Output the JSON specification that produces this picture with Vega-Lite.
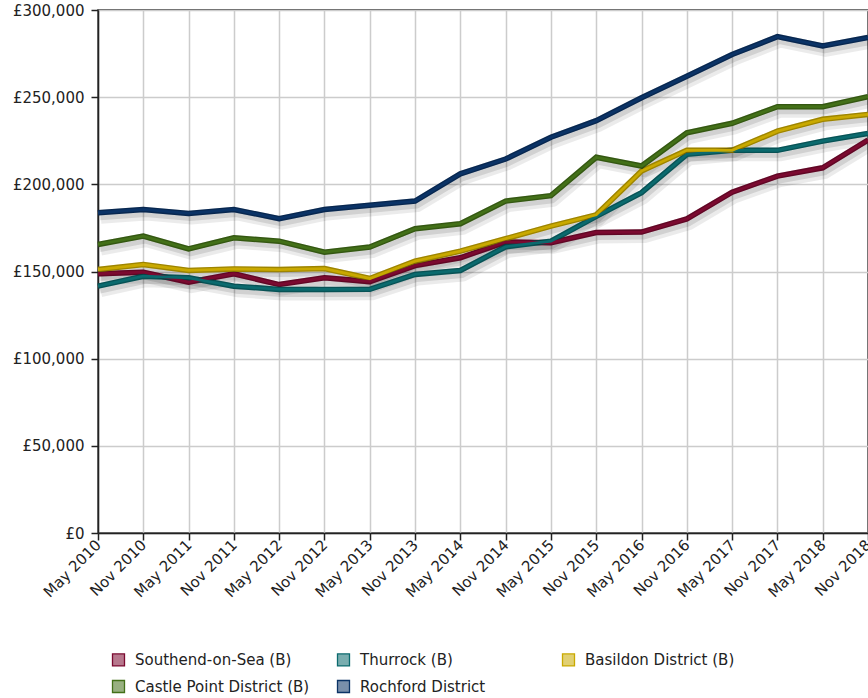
{
  "$schema": "https://vega.github.io/schema/vega-lite/v6.json",
  "width": 770,
  "height": 523,
  "autosize": {"type": "none"},
  "padding": {"left": 98, "top": 10, "right": 0, "bottom": 165},
  "background": "white",
  "config": {
    "font": "DejaVu Sans",
    "view": {"stroke": "#222", "strokeWidth": 1.5}
  },
  "data": {
    "values": [
      {"period": "May 2010", "area": "Southend-on-Sea (B)", "price": 148700},
      {"period": "Nov 2010", "area": "Southend-on-Sea (B)", "price": 149600},
      {"period": "May 2011", "area": "Southend-on-Sea (B)", "price": 143900},
      {"period": "Nov 2011", "area": "Southend-on-Sea (B)", "price": 148700},
      {"period": "May 2012", "area": "Southend-on-Sea (B)", "price": 142500},
      {"period": "Nov 2012", "area": "Southend-on-Sea (B)", "price": 146400},
      {"period": "May 2013", "area": "Southend-on-Sea (B)", "price": 144200},
      {"period": "Nov 2013", "area": "Southend-on-Sea (B)", "price": 153400},
      {"period": "May 2014", "area": "Southend-on-Sea (B)", "price": 157900},
      {"period": "Nov 2014", "area": "Southend-on-Sea (B)", "price": 166900},
      {"period": "May 2015", "area": "Southend-on-Sea (B)", "price": 166500},
      {"period": "Nov 2015", "area": "Southend-on-Sea (B)", "price": 172400},
      {"period": "May 2016", "area": "Southend-on-Sea (B)", "price": 172600},
      {"period": "Nov 2016", "area": "Southend-on-Sea (B)", "price": 180200},
      {"period": "May 2017", "area": "Southend-on-Sea (B)", "price": 195500},
      {"period": "Nov 2017", "area": "Southend-on-Sea (B)", "price": 204700},
      {"period": "May 2018", "area": "Southend-on-Sea (B)", "price": 209500},
      {"period": "Nov 2018", "area": "Southend-on-Sea (B)", "price": 225400},

      {"period": "May 2010", "area": "Thurrock (B)", "price": 141600},
      {"period": "Nov 2010", "area": "Thurrock (B)", "price": 147300},
      {"period": "May 2011", "area": "Thurrock (B)", "price": 146400},
      {"period": "Nov 2011", "area": "Thurrock (B)", "price": 141600},
      {"period": "May 2012", "area": "Thurrock (B)", "price": 139700},
      {"period": "Nov 2012", "area": "Thurrock (B)", "price": 139700},
      {"period": "May 2013", "area": "Thurrock (B)", "price": 139800},
      {"period": "Nov 2013", "area": "Thurrock (B)", "price": 148300},
      {"period": "May 2014", "area": "Thurrock (B)", "price": 150600},
      {"period": "Nov 2014", "area": "Thurrock (B)", "price": 164200},
      {"period": "May 2015", "area": "Thurrock (B)", "price": 167400},
      {"period": "Nov 2015", "area": "Thurrock (B)", "price": 181600},
      {"period": "May 2016", "area": "Thurrock (B)", "price": 195200},
      {"period": "Nov 2016", "area": "Thurrock (B)", "price": 217200},
      {"period": "May 2017", "area": "Thurrock (B)", "price": 219500},
      {"period": "Nov 2017", "area": "Thurrock (B)", "price": 219500},
      {"period": "May 2018", "area": "Thurrock (B)", "price": 224800},
      {"period": "Nov 2018", "area": "Thurrock (B)", "price": 229200},

      {"period": "May 2010", "area": "Basildon District (B)", "price": 151100},
      {"period": "Nov 2010", "area": "Basildon District (B)", "price": 154000},
      {"period": "May 2011", "area": "Basildon District (B)", "price": 150600},
      {"period": "Nov 2011", "area": "Basildon District (B)", "price": 151500},
      {"period": "May 2012", "area": "Basildon District (B)", "price": 151100},
      {"period": "Nov 2012", "area": "Basildon District (B)", "price": 151700},
      {"period": "May 2013", "area": "Basildon District (B)", "price": 146000},
      {"period": "Nov 2013", "area": "Basildon District (B)", "price": 155900},
      {"period": "May 2014", "area": "Basildon District (B)", "price": 161700},
      {"period": "Nov 2014", "area": "Basildon District (B)", "price": 168800},
      {"period": "May 2015", "area": "Basildon District (B)", "price": 176000},
      {"period": "Nov 2015", "area": "Basildon District (B)", "price": 182500},
      {"period": "May 2016", "area": "Basildon District (B)", "price": 207600},
      {"period": "Nov 2016", "area": "Basildon District (B)", "price": 219500},
      {"period": "May 2017", "area": "Basildon District (B)", "price": 219500},
      {"period": "Nov 2017", "area": "Basildon District (B)", "price": 230500},
      {"period": "May 2018", "area": "Basildon District (B)", "price": 237300},
      {"period": "Nov 2018", "area": "Basildon District (B)", "price": 240100},

      {"period": "May 2010", "area": "Castle Point District (B)", "price": 165500},
      {"period": "Nov 2010", "area": "Castle Point District (B)", "price": 170300},
      {"period": "May 2011", "area": "Castle Point District (B)", "price": 163000},
      {"period": "Nov 2011", "area": "Castle Point District (B)", "price": 169300},
      {"period": "May 2012", "area": "Castle Point District (B)", "price": 167400},
      {"period": "Nov 2012", "area": "Castle Point District (B)", "price": 161100},
      {"period": "May 2013", "area": "Castle Point District (B)", "price": 164000},
      {"period": "Nov 2013", "area": "Castle Point District (B)", "price": 174500},
      {"period": "May 2014", "area": "Castle Point District (B)", "price": 177400},
      {"period": "Nov 2014", "area": "Castle Point District (B)", "price": 190400},
      {"period": "May 2015", "area": "Castle Point District (B)", "price": 193500},
      {"period": "Nov 2015", "area": "Castle Point District (B)", "price": 215500},
      {"period": "May 2016", "area": "Castle Point District (B)", "price": 210500},
      {"period": "Nov 2016", "area": "Castle Point District (B)", "price": 229600},
      {"period": "May 2017", "area": "Castle Point District (B)", "price": 235000},
      {"period": "Nov 2017", "area": "Castle Point District (B)", "price": 244500},
      {"period": "May 2018", "area": "Castle Point District (B)", "price": 244500},
      {"period": "Nov 2018", "area": "Castle Point District (B)", "price": 250300},

      {"period": "May 2010", "area": "Rochford District", "price": 183700},
      {"period": "Nov 2010", "area": "Rochford District", "price": 185600},
      {"period": "May 2011", "area": "Rochford District", "price": 183300},
      {"period": "Nov 2011", "area": "Rochford District", "price": 185600},
      {"period": "May 2012", "area": "Rochford District", "price": 180300},
      {"period": "Nov 2012", "area": "Rochford District", "price": 185600},
      {"period": "May 2013", "area": "Rochford District", "price": 188000},
      {"period": "Nov 2013", "area": "Rochford District", "price": 190400},
      {"period": "May 2014", "area": "Rochford District", "price": 206000},
      {"period": "Nov 2014", "area": "Rochford District", "price": 214500},
      {"period": "May 2015", "area": "Rochford District", "price": 227000},
      {"period": "Nov 2015", "area": "Rochford District", "price": 236500},
      {"period": "May 2016", "area": "Rochford District", "price": 249700},
      {"period": "Nov 2016", "area": "Rochford District", "price": 262000},
      {"period": "May 2017", "area": "Rochford District", "price": 274500},
      {"period": "Nov 2017", "area": "Rochford District", "price": 284700},
      {"period": "May 2018", "area": "Rochford District", "price": 279400},
      {"period": "Nov 2018", "area": "Rochford District", "price": 284200}
    ]
  },
  "encoding": {
    "x": {
      "field": "period",
      "type": "ordinal",
      "sort": null,
      "scale": {"type": "point", "padding": 0},
      "axis": {
        "title": null,
        "grid": true,
        "gridColor": "#cccccc",
        "gridWidth": 1.5,
        "domainColor": "#222",
        "domainWidth": 1.5,
        "tickColor": "#222",
        "tickWidth": 1.5,
        "tickSize": 7,
        "labelAngle": -45,
        "labelAlign": "right",
        "labelBaseline": "middle",
        "labelPadding": 2,
        "labelFont": "DejaVu Sans",
        "labelFontSize": 15,
        "labelColor": "#222",
        "labelOverlap": false
      }
    },
    "y": {
      "field": "price",
      "type": "quantitative",
      "scale": {"domain": [0, 300000], "nice": false},
      "axis": {
        "title": null,
        "values": [0, 50000, 100000, 150000, 200000, 250000, 300000],
        "labelExpr": "'£' + format(datum.value, ',')",
        "grid": true,
        "gridColor": "#cccccc",
        "gridWidth": 1.5,
        "domainColor": "#222",
        "domainWidth": 1.5,
        "tickColor": "#222",
        "tickWidth": 1.5,
        "tickSize": 7,
        "labelPadding": 7,
        "labelFont": "DejaVu Sans",
        "labelFontSize": 15,
        "labelColor": "#222"
      }
    }
  },
  "layer": [
    {
      "mark": {"type": "line", "color": "#000", "opacity": 0.08, "strokeWidth": 10, "xOffset": 3, "yOffset": 6, "strokeJoin": "round"},
      "encoding": {"detail": {"field": "area"}}
    },
    {
      "mark": {"type": "line", "color": "#000", "opacity": 0.11, "strokeWidth": 5, "xOffset": 2, "yOffset": 5, "strokeJoin": "round"},
      "encoding": {"detail": {"field": "area"}}
    },
    {
      "mark": {"type": "line", "strokeWidth": 5.5, "strokeJoin": "miter"},
      "encoding": {
        "color": {
          "field": "area",
          "scale": {
            "domain": ["Southend-on-Sea (B)", "Thurrock (B)", "Basildon District (B)", "Castle Point District (B)", "Rochford District"],
            "range": ["#7b0a30", "#0b6a6e", "#c9a900", "#437018", "#0b3366"]
          },
          "legend": {
            "title": null,
            "orient": "none",
            "legendX": 13,
            "legendY": 642,
            "direction": "horizontal",
            "columns": 3,
            "gridAlign": "all",
            "columnPadding": 24,
            "rowPadding": 8,
            "symbolType": "square",
            "symbolSize": 144,
            "symbolStrokeWidth": 1.3,
            "labelFont": "DejaVu Sans",
            "labelFontSize": 15,
            "labelColor": "#222",
            "labelOffset": 9,
            "labelLimit": 300,
            "encode": {
              "symbols": {
                "update": {
                  "fill": {"scale": "color", "field": "value"},
                  "fillOpacity": {"value": 0.55},
                  "stroke": {"value": "#2a2a2a"},
                  "strokeWidth": {"value": 1.3},
                  "opacity": {"value": 1}
                }
              }
            }
          }
        }
      }
    },
    {
      "mark": {"type": "line", "color": "#000", "opacity": 0.22, "strokeWidth": 5.5, "strokeJoin": "miter"},
      "encoding": {"detail": {"field": "area"}}
    },
    {
      "mark": {"type": "line", "strokeWidth": 2.8, "strokeJoin": "miter"},
      "encoding": {
        "color": {
          "field": "area",
          "scale": {
            "domain": ["Southend-on-Sea (B)", "Thurrock (B)", "Basildon District (B)", "Castle Point District (B)", "Rochford District"],
            "range": ["#7b0a30", "#0b6a6e", "#c9a900", "#437018", "#0b3366"]
          }
        }
      }
    }
  ]
}
